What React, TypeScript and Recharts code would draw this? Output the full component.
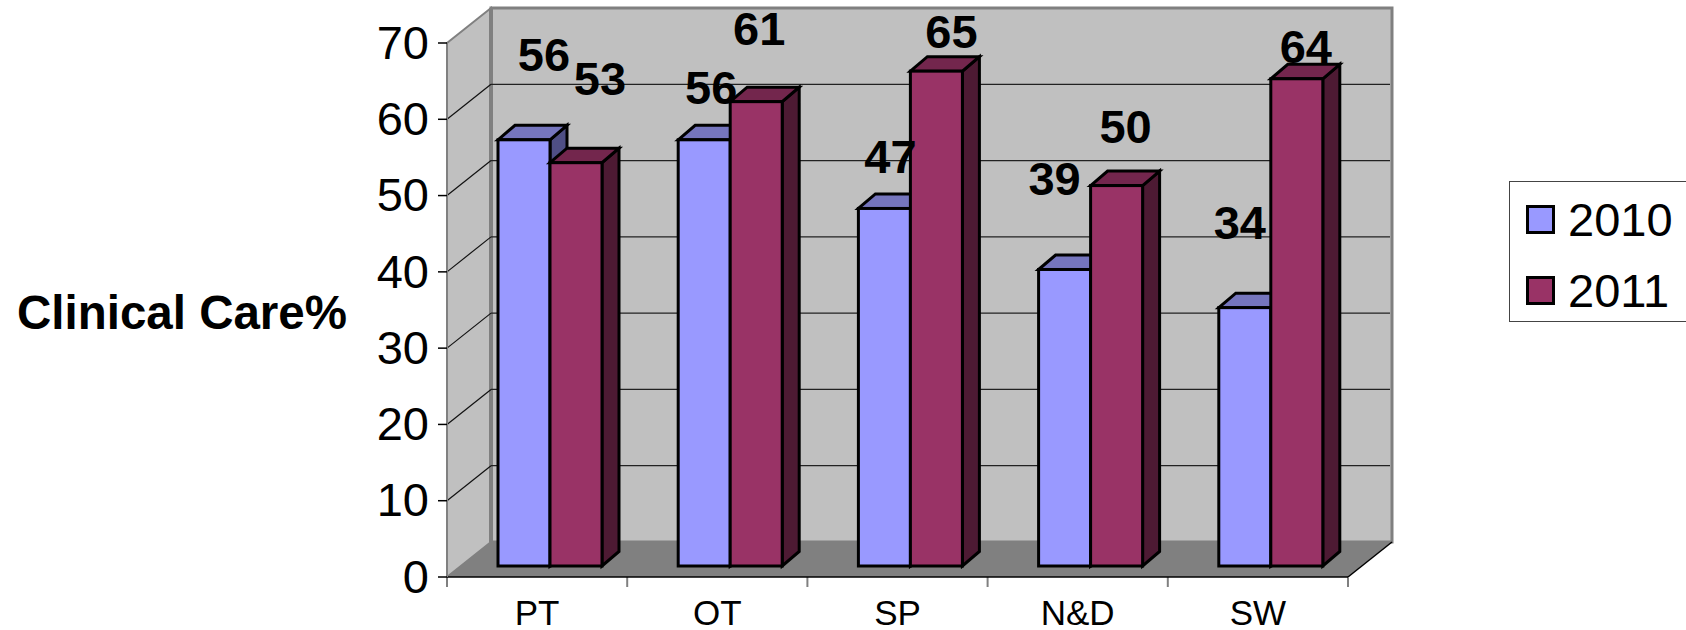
import { BarChart, Bar, XAxis, YAxis, CartesianGrid, Legend, LabelList, Customized } from 'recharts'

const categories = ['PT', 'OT', 'SP', 'N&D', 'SW']
const values2010 = [56, 56, 47, 39, 34]
const values2011 = [53, 61, 65, 50, 64]
const yTicks = [0, 10, 20, 30, 40, 50, 60, 70]

// the labels were dragged around by hand in the original, so each has its own nudge
const nudge2010 = [[33, -79], [20, -46], [19, -45], [3, -84], [8, -79]]
const nudge2011 = [[37, -78], [16, -67], [28, -33], [22, -53], [22, -26]]

const chartData = categories.map((name, i) => ({
  name,
  y2010: values2010[i],
  y2011: values2011[i],
}))

const FONT = '"Liberation Sans", Arial, sans-serif'
const W = 1686
const H = 630
const PLOT = { left: 447, right: 1348, top: 43, bottom: 577 }
const WALL_DX = 44
const WALL_DY = 35
const WALL_GRAY = '#c0c0c0'
const EDGE_GRAY = '#808080'

function Walls() {
  const { left, right, top, bottom } = PLOT
  const b = WALL_DX
  const d = WALL_DY
  const step = (right - left) / categories.length
  return (
    <g>
      <polygon points={`${left + b},${top - d} ${right + b},${top - d} ${right + b},${bottom - d} ${left + b},${bottom - d}`} fill={WALL_GRAY} stroke={EDGE_GRAY} strokeWidth={3} />
      <polygon points={`${left},${top} ${left + b},${top - d} ${left + b},${bottom - d} ${left},${bottom}`} fill={WALL_GRAY} stroke={EDGE_GRAY} strokeWidth={2} />
      <line x1={left + b} y1={top - d} x2={left + b} y2={bottom - d} stroke={EDGE_GRAY} strokeWidth={4} />
      <polygon points={`${left},${bottom} ${left + b},${bottom - d} ${right + b},${bottom - d} ${right},${bottom}`} fill={EDGE_GRAY} />
      <line x1={right} y1={bottom} x2={right + b} y2={bottom - d} stroke="#000" strokeWidth={1.5} />
      {categories.concat('').map((_, i) => (
        <line key={i} x1={left + i * step} y1={bottom} x2={left + i * step} y2={bottom + 10} stroke={EDGE_GRAY} strokeWidth={2} />
      ))}
    </g>
  )
}

function GridLine(props: any) {
  const { y1 } = props
  if (y1 <= PLOT.top + 1 || y1 >= PLOT.bottom - 1) return null
  return (
    <g key={props.key}>
      <line x1={PLOT.left} y1={y1} x2={PLOT.left + WALL_DX} y2={y1 - WALL_DY} stroke="#111" strokeWidth={1.2} />
      <line x1={PLOT.left + WALL_DX} y1={y1 - WALL_DY} x2={PLOT.right + WALL_DX - 2} y2={y1 - WALL_DY} stroke="#222" strokeWidth={1.3} />
    </g>
  )
}

function Bar3D(props: any) {
  const { x, y, width, height, fill, topFill, sideFill } = props
  const dx = 17
  const dy = 14.5
  const l = x + 13
  const r = l + width
  const t = y - 10
  const b = y + height - 11
  const line = { stroke: '#000', strokeWidth: 3, strokeLinejoin: 'miter' as const }
  return (
    <g>
      <polygon points={`${r},${t} ${r + dx},${t - dy} ${r + dx},${b - dy} ${r},${b}`} fill={sideFill} {...line} />
      <polygon points={`${l},${t} ${l + dx},${t - dy} ${r + dx},${t - dy} ${r},${t}`} fill={topFill} {...line} />
      <rect x={l} y={t} width={width} height={b - t} fill={fill} {...line} />
    </g>
  )
}

function valueLabel(nudge: number[][]) {
  return (props: any) => {
    const vb = props.viewBox ?? props
    const [nx, ny] = nudge[props.index]
    return (
      <text
        x={vb.x + vb.width / 2 + nx}
        y={vb.y + ny}
        textAnchor="middle"
        fontFamily={FONT}
        fontSize={47}
        fontWeight="bold"
        fill="#000"
      >
        {props.value}
      </text>
    )
  }
}

function LegendBox({ payload }: any) {
  return (
    <div
      style={{
        boxSizing: 'border-box',
        width: 200,
        height: 141,
        background: '#fff',
        border: '1.5px solid #444',
        fontFamily: FONT,
        fontSize: 47,
        color: '#000',
        position: 'relative',
      }}
    >
      {(payload ?? []).map((item: any, i: number) => (
        <div key={item.value} style={{ position: 'absolute', left: 16, top: 23 + i * 71, height: 29, display: 'flex', alignItems: 'center' }}>
          <span style={{ boxSizing: 'border-box', width: 29, height: 29, background: item.color, border: '3px solid #000', display: 'inline-block' }} />
          <span style={{ marginLeft: 13, lineHeight: '29px' }}>{item.value}</span>
        </div>
      ))}
    </div>
  )
}

export default function App() {
  return (
    <div style={{ position: 'absolute', left: 0, top: 0, width: W, height: H, overflow: 'hidden', background: '#fff' }}>
      <BarChart
        width={W}
        height={H}
        data={chartData}
        margin={{ top: PLOT.top, right: W - PLOT.right, left: PLOT.left - 90, bottom: H - PLOT.bottom - 50 }}
        barCategoryGap={38}
        barGap={0}
        barSize={52}
      >
        <Customized component={<Walls />} />
        <CartesianGrid vertical={false} horizontal={GridLine as any} zIndex={100} />
        <XAxis
          dataKey="name"
          height={50}
          interval={0}
          tickLine={false}
          axisLine={{ stroke: '#000', strokeWidth: 1.5 }}
          tick={{ fontFamily: FONT, fontSize: 35, fill: '#000' }}
          tickMargin={17}
        />
        <YAxis
          width={90}
          domain={[0, 70]}
          ticks={yTicks}
          interval={0}
          tickSize={9}
          tickLine={{ stroke: '#000', strokeWidth: 1.5 }}
          axisLine={{ stroke: EDGE_GRAY, strokeWidth: 2 }}
          tick={{ fontFamily: FONT, fontSize: 47, fill: '#000', dy: -1 }}
          tickMargin={9}
        />
        <Bar dataKey="y2010" name="2010" fill="#9999ff" isAnimationActive={false} shape={(p: any) => <Bar3D {...p} topFill="#7575bd" sideFill="#4f4f85" />}>
          <LabelList dataKey="y2010" content={valueLabel(nudge2010)} />
        </Bar>
        <Bar dataKey="y2011" name="2011" fill="#993366" isAnimationActive={false} shape={(p: any) => <Bar3D {...p} topFill="#73264d" sideFill="#4d1a33" />}>
          <LabelList dataKey="y2011" content={valueLabel(nudge2011)} />
        </Bar>
        <Legend
          layout="vertical"
          align="center"
          verticalAlign="middle"
          wrapperStyle={{ left: 1509, top: 180.5, width: 200, height: 141 }}
          content={<LegendBox />}
        />
        <text x={17} y={329} fontFamily={FONT} fontSize={47.5} fontWeight="bold" fill="#000">
          Clinical Care%
        </text>
      </BarChart>
    </div>
  )
}
